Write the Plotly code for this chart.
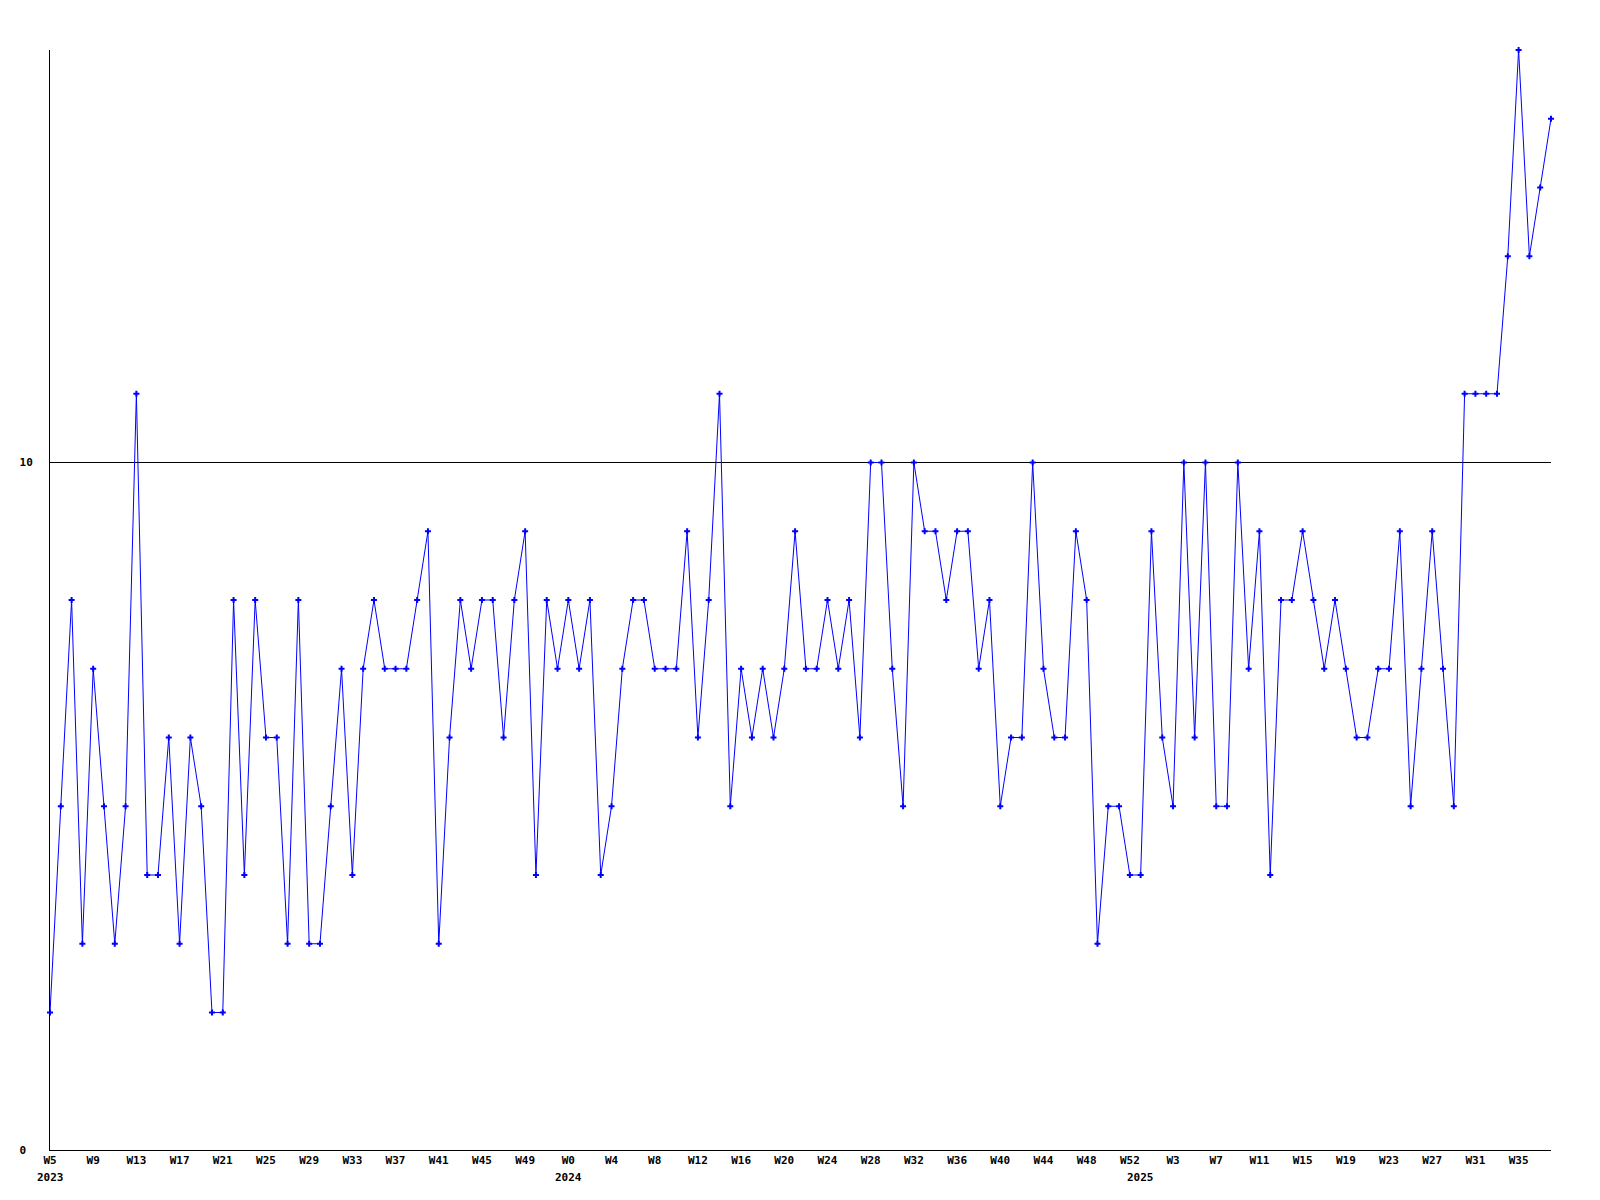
import plotly.graph_objects as go

# ---- data ----
years = [2023, 2024, 2025]
first_week = [5, 0, 0]
last_week = [52, 52, 38]

values = [
    2, 5, 8, 3, 7, 5, 3, 5, 11, 4,
    4, 6, 3, 6, 5, 2, 2, 8, 4, 8,
    6, 6, 3, 8, 3, 3, 5, 7, 4, 7,
    8, 7, 7, 7, 8, 9, 3, 6, 8, 7,
    8, 8, 6, 8, 9, 4, 8, 7, 8, 7,
    8, 4, 5, 7, 8, 8, 7, 7, 7, 9,
    6, 8, 11, 5, 7, 6, 7, 6, 7, 9,
    7, 7, 8, 7, 8, 6, 10, 10, 7, 5,
    10, 9, 9, 8, 9, 9, 7, 8, 5, 6,
    6, 10, 7, 6, 6, 9, 8, 3, 5, 5,
    4, 4, 9, 6, 5, 10, 6, 10, 5, 5,
    10, 7, 9, 4, 8, 8, 9, 8, 7, 8,
    7, 6, 6, 7, 7, 9, 5, 7, 9, 7,
    5, 11, 11, 11, 11, 13, 16, 13, 14, 15,
]

y_ticks = [0, 10]
y_tick_text = ["0\u00a0", "10"]
label_every = 4

# ---- derived categories ----
week_labels = []
year_first_index = []
for yr, w0, w1 in zip(years, first_week, last_week):
    year_first_index.append(len(week_labels))
    for w in range(w0, w1 + 1):
        week_labels.append(f"W{w}")

x = list(range(len(values)))
tick_idx = x[::label_every]
tick_text = [week_labels[i] for i in tick_idx]

FONT = dict(family="DejaVu Sans Mono", size=11, color="black", weight="bold")

fig = go.Figure()
fig.add_trace(go.Scatter(
    x=x, y=values,
    mode="lines+markers",
    line=dict(color="#0000ff", width=1),
    marker=dict(symbol="cross", size=5, color="#0000ff", line=dict(width=0)),
    cliponaxis=False,
    showlegend=False,
    hoverinfo="skip",
))

for yr, idx in zip(years, year_first_index):
    fig.add_annotation(
        x=idx, y=0, xref="x", yref="paper",
        text=str(yr), showarrow=False,
        xanchor="center", yanchor="middle", yshift=-27,
        font=FONT,
    )

fig.update_layout(
    width=1600, height=1200, autosize=False,
    margin=dict(l=42, r=57, t=42, b=58),
    plot_bgcolor="white", paper_bgcolor="white",
    showlegend=False,
)
fig.update_xaxes(
    range=[0, len(values) - 1],
    tickmode="array", tickvals=tick_idx, ticktext=tick_text,
    tickangle=0, tickfont=FONT, ticks="",
    showgrid=False, zeroline=False,
    showline=True, linecolor="black", linewidth=1,
)
fig.update_yaxes(
    range=[0, 16],
    tickmode="array", tickvals=y_ticks, ticktext=y_tick_text,
    tickfont=FONT, ticks="", ticklabelstandoff=14,
    showgrid=True, gridcolor="black", gridwidth=1,
    zeroline=False,
    showline=True, linecolor="black", linewidth=1,
)

fig.write_html("out.html")
